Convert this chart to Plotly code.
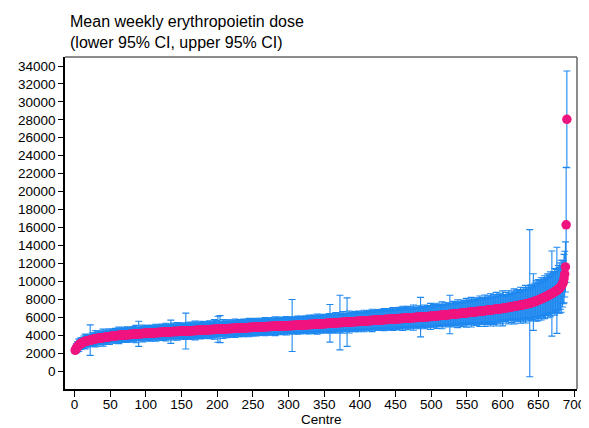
import plotly.graph_objects as go

# Mean weekly erythropoietin dose per centre (sorted)
mean_dose = [
    2300, 2450, 2580, 2700, 2790, 2870, 2940, 3000, 3060, 3110,
    3150, 3190, 3230, 3260, 3290, 3320, 3340, 3360, 3380, 3400,
    3420, 3440, 3460, 3480, 3500, 3520, 3540, 3560, 3580, 3600,
    3610, 3620, 3640, 3650, 3660, 3680, 3690, 3700, 3710, 3720,
    3730, 3740, 3750, 3760, 3770, 3790, 3800, 3810, 3830, 3850,
    3860, 3870, 3880, 3890, 3900, 3910, 3920, 3930, 3940, 3950,
    3960, 3970, 3975, 3980, 3990, 4000, 4005, 4010, 4020, 4030,
    4035, 4040, 4045, 4050, 4055, 4060, 4065, 4070, 4075, 4080,
    4090, 4095, 4100, 4110, 4115, 4120, 4130, 4135, 4140, 4150,
    4155, 4160, 4165, 4170, 4175, 4180, 4185, 4190, 4195, 4200,
    4205, 4210, 4215, 4220, 4225, 4230, 4235, 4240, 4245, 4250,
    4255, 4260, 4265, 4270, 4275, 4280, 4285, 4290, 4295, 4300,
    4305, 4310, 4315, 4320, 4325, 4330, 4335, 4340, 4345, 4350,
    4355, 4360, 4365, 4370, 4375, 4380, 4385, 4390, 4395, 4400,
    4405, 4408, 4411, 4414, 4417, 4420, 4422, 4425, 4428, 4430,
    4435, 4440, 4444, 4448, 4452, 4456, 4460, 4465, 4470, 4475,
    4480, 4484, 4488, 4492, 4496, 4500, 4505, 4510, 4515, 4520,
    4524, 4528, 4532, 4536, 4540, 4545, 4550, 4555, 4560, 4565,
    4570, 4574, 4578, 4582, 4586, 4590, 4595, 4600, 4605, 4610,
    4614, 4618, 4622, 4626, 4630, 4634, 4638, 4642, 4646, 4650,
    4655, 4660, 4664, 4668, 4672, 4676, 4680, 4685, 4690, 4695,
    4700, 4704, 4708, 4712, 4716, 4720, 4725, 4730, 4735, 4740,
    4744, 4748, 4752, 4756, 4760, 4764, 4768, 4772, 4776, 4780,
    4785, 4790, 4794, 4798, 4802, 4806, 4810, 4815, 4820, 4825,
    4830, 4834, 4838, 4842, 4846, 4850, 4855, 4860, 4865, 4870,
    4874, 4878, 4882, 4886, 4890, 4894, 4898, 4902, 4906, 4910,
    4914, 4918, 4922, 4926, 4930, 4934, 4938, 4942, 4946, 4950,
    4954, 4958, 4962, 4966, 4970, 4974, 4978, 4982, 4986, 4990,
    4994, 4998, 5002, 5006, 5010, 5014, 5018, 5022, 5026, 5030,
    5032, 5034, 5036, 5038, 5040, 5042, 5044, 5046, 5048, 5050,
    5055, 5060, 5064, 5068, 5072, 5076, 5080, 5085, 5090, 5095,
    5100, 5104, 5108, 5112, 5116, 5120, 5125, 5130, 5135, 5140,
    5144, 5148, 5152, 5156, 5160, 5164, 5168, 5172, 5176, 5180,
    5185, 5190, 5195, 5200, 5205, 5210, 5215, 5220, 5225, 5230,
    5235, 5240, 5245, 5250, 5255, 5260, 5265, 5270, 5275, 5280,
    5285, 5290, 5295, 5300, 5305, 5310, 5315, 5320, 5325, 5330,
    5336, 5342, 5348, 5354, 5360, 5366, 5372, 5378, 5384, 5390,
    5395, 5400, 5405, 5410, 5415, 5420, 5425, 5430, 5435, 5440,
    5445, 5450, 5455, 5460, 5465, 5470, 5475, 5480, 5485, 5490,
    5495, 5500, 5505, 5510, 5515, 5520, 5525, 5530, 5535, 5540,
    5545, 5550, 5556, 5562, 5568, 5574, 5580, 5585, 5590, 5595,
    5600, 5606, 5612, 5618, 5624, 5630, 5635, 5640, 5645, 5650,
    5656, 5662, 5668, 5674, 5680, 5685, 5690, 5695, 5700, 5705,
    5710, 5716, 5722, 5728, 5734, 5740, 5745, 5750, 5755, 5760,
    5765, 5770, 5775, 5780, 5785, 5790, 5795, 5800, 5805, 5810,
    5816, 5822, 5828, 5834, 5840, 5845, 5850, 5855, 5860, 5865,
    5871, 5877, 5883, 5889, 5895, 5900, 5905, 5910, 5915, 5920,
    5926, 5932, 5938, 5944, 5950, 5955, 5960, 5965, 5970, 5975,
    5981, 5987, 5993, 5999, 6005, 6010, 6015, 6020, 6025, 6030,
    6036, 6042, 6048, 6054, 6060, 6066, 6072, 6078, 6084, 6090,
    6098, 6106, 6114, 6122, 6130, 6138, 6146, 6154, 6162, 6170,
    6178, 6186, 6194, 6202, 6210, 6218, 6226, 6234, 6242, 6250,
    6258, 6266, 6274, 6282, 6290, 6298, 6306, 6314, 6322, 6330,
    6338, 6346, 6354, 6362, 6370, 6378, 6386, 6394, 6402, 6410,
    6419, 6428, 6437, 6446, 6455, 6464, 6473, 6482, 6491, 6500,
    6510, 6520, 6529, 6538, 6547, 6556, 6565, 6574, 6583, 6592,
    6601, 6610, 6619, 6628, 6637, 6646, 6655, 6664, 6673, 6682,
    6691, 6700, 6710, 6720, 6730, 6740, 6750, 6760, 6770, 6780,
    6790, 6800, 6810, 6820, 6830, 6840, 6850, 6860, 6870, 6880,
    6890, 6900, 6910, 6920, 6930, 6940, 6950, 6960, 6970, 6980,
    6994, 7008, 7022, 7036, 7050, 7064, 7078, 7092, 7106, 7120,
    7134, 7148, 7162, 7176, 7190, 7204, 7218, 7232, 7246, 7260,
    7274, 7288, 7302, 7316, 7330, 7346, 7362, 7378, 7394, 7410,
    7428, 7446, 7464, 7482, 7500, 7520, 7540, 7560, 7580, 7600,
    7628, 7656, 7684, 7712, 7740, 7770, 7800, 7830, 7865, 7900,
    7935, 7970, 8005, 8040, 8075, 8110, 8145, 8180, 8220, 8260,
    8300, 8340, 8380, 8420, 8460, 8500, 8545, 8590, 8635, 8680,
    8730, 8780, 8830, 8880, 8930, 8990, 9050, 9110, 9180, 9250,
    9340, 9450, 9580, 9730, 9900, 10300, 10800, 11600, 16300, 28050,
]

# Half-width of the 95% CI per centre (estimated from the error bars)
ci_half = [
    350, 420, 480, 560, 450, 700, 500, 560, 640, 480,
    590, 520, 680, 500, 820, 560, 620, 700, 530, 580,
    650, 1700, 560, 610, 760, 520, 680, 590, 900, 540,
    640, 850, 550, 700, 600, 520, 760, 580, 660, 950,
    560, 720, 610, 540, 800, 640, 580, 690, 870, 600,
    650, 540, 750, 620, 700, 580, 830, 660, 550, 730,
    610, 920, 570, 680, 630, 790, 560, 710, 660, 850,
    600, 760, 650, 880, 570, 700, 610, 810, 650, 580,
    740, 640, 850, 590, 690, 970, 610, 720, 650, 1400,
    680, 590, 820, 630, 720, 930, 620, 770, 670, 590,
    710, 870, 630, 780, 660, 580, 900, 690, 750, 640,
    820, 600, 720, 950, 650, 750, 630, 860, 680, 590,
    780, 670, 910, 620, 730, 820, 650, 980, 700, 610,
    750, 870, 660, 720, 1300, 630, 800, 680, 940, 640,
    740, 830, 660, 990, 700, 610, 790, 710, 880, 660,
    760, 680, 930, 650, 830, 2000, 700, 770, 660, 880,
    720, 970, 640, 800, 690, 860, 740, 650, 1050, 700,
    780, 660, 910, 720, 810, 640, 990, 680, 760, 860,
    670, 950, 710, 790, 650, 890, 750, 690, 1000, 660,
    820, 730, 920, 650, 850, 1100, 700, 760, 970, 680,
    1450, 790, 700, 1500, 740, 860, 660, 1060, 760, 710,
    900, 650, 810, 1000, 720, 780, 680, 950, 740, 830,
    670, 920, 750, 720, 1030, 690, 790, 860, 660, 960,
    730, 820, 700, 910, 770, 650, 980, 720, 810, 890,
    680, 930, 760, 730, 1020, 670, 850, 790, 700, 950,
    750, 880, 690, 820, 990, 720, 780, 900, 670, 840,
    760, 960, 710, 800, 870, 680, 1010, 770, 730, 900,
    810, 700, 970, 760, 860, 720, 930, 790, 680, 890,
    1050, 750, 830, 730, 940, 790, 700, 880, 810, 990,
    720, 850, 770, 930, 740, 820, 1030, 710, 790, 870,
    760, 920, 730, 830, 2900, 790, 960, 730, 850, 810,
    900, 750, 1010, 790, 710, 870, 960, 770, 840, 740,
    930, 810, 760, 990, 850, 730, 910, 820, 1050, 780,
    870, 750, 950, 830, 790, 1020, 730, 890, 840, 1120,
    790, 930, 820, 990, 760, 880, 1060, 800, 940, 860,
    840, 1010, 780, 900, 960, 820, 1090, 2100, 870, 920,
    790, 1040, 880, 820, 970, 1160, 850, 930, 810, 1060,
    890, 3050, 840, 1000, 930, 1200, 860, 960, 800, 1030,
    910, 2700, 850, 980, 1230, 880, 940, 1070, 820, 1000,
    910, 870, 1110, 950, 840, 1020, 900, 1150, 860, 970,
    930, 1060, 880, 990, 850, 1200, 950, 900, 1040, 870,
    980, 920, 1130, 880, 1010, 950, 1250, 910, 1050, 930,
    860, 1090, 970, 910, 1160, 1000, 890, 1060, 940, 1180,
    900, 1030, 980, 1240, 930, 1100, 880, 1000, 1210, 950,
    1040, 910, 1150, 1010, 940, 1280, 970, 1090, 920, 1030,
    1190, 960, 1060, 910, 1250, 990, 1110, 950, 1040, 1350,
    980, 1080, 940, 1190, 1020, 960, 1300, 1060, 1000, 1130,
    950, 1230, 1040, 980, 1400, 1070, 1010, 1160, 970, 1100,
    1050, 1280, 1000, 1090, 2200, 1030, 1200, 980, 1140, 1060,
    1330, 1010, 1110, 1050, 1240, 990, 1170, 1080, 1450, 1030,
    1130, 1060, 1300, 1020, 1190, 1100, 1050, 1400, 1120, 1060,
    1230, 1040, 1160, 1110, 1500, 1070, 1210, 1140, 1050, 1340,
    1110, 1180, 1080, 1290, 1150, 2150, 1100, 1240, 1170, 1120,
    1420, 1160, 1110, 1270, 1200, 1130, 1550, 1220, 1160, 1310,
    1180, 1120, 1480, 1240, 1190, 1370, 1150, 1280, 1600, 1210,
    1260, 1170, 1400, 1230, 1310, 1650, 1190, 1350, 1250, 1470,
    1290, 1220, 1550, 1330, 1270, 1430, 1240, 1700, 1340, 1290,
    1510, 1310, 1390, 1260, 1750, 1360, 1300, 1480, 1330, 1600,
    1380, 1320, 1800, 1400, 1350, 1540, 1340, 1670, 1410, 1370,
    1880, 1430, 1390, 1600, 1450, 1400, 1710, 1460, 1420, 1950,
    1350, 1300, 1500, 1380, 1700, 1320, 1420, 1850, 1400, 1340,
    1550, 1420, 1750, 1400, 1480, 1950, 1440, 1560, 1460, 1700,
    1500, 1800, 1480, 1620, 2000, 1520, 1700, 1510, 1900, 1560,
    1650, 2100, 1580, 1800, 1620, 1950, 1600, 8200, 1700, 2000,
    1660, 1900, 3150, 1700, 2050, 1740, 2250, 1780, 1960, 2300,
    1800, 2100, 1850, 2350, 1880, 2050, 2250, 1900, 2400, 1950,
    2100, 1980, 2450, 2020, 2250, 2050, 2500, 2100, 4750, 2150,
    2300, 2180, 2600, 2220, 2400, 4800, 2280, 2650, 2350, 2800,
    2450, 2900, 2000, 2600, 2400, 2700, 2550, 2800, 6400, 5400,
]

centre = list(range(1, len(mean_dose) + 1))

x_ticks = [0, 50, 100, 150, 200, 250, 300, 350, 400, 450, 500, 550, 600, 650, 700]
y_ticks = [0, 2000, 4000, 6000, 8000, 10000, 12000, 14000, 16000, 18000,
           20000, 22000, 24000, 26000, 28000, 30000, 32000, 34000]

BLUE = "#1E88F0"
PINK = "#F0147F"
FONT = "Liberation Sans, Arial, sans-serif"

fig = go.Figure()
fig.add_trace(go.Scatter(
    x=centre, y=mean_dose, mode="markers",
    marker=dict(size=9, color=BLUE, opacity=0),
    error_y=dict(type="data", array=ci_half, symmetric=True,
                 color=BLUE, thickness=1.1, width=3.5),
    showlegend=False, hoverinfo="skip",
))
fig.add_trace(go.Scatter(
    x=centre, y=mean_dose, mode="markers",
    marker=dict(size=9.5, color=PINK, line=dict(width=0)),
    showlegend=False,
))

# The page body has an 8px default margin, so the figure is sized and
# offset to land on the same pixels as the reference in a 589x428 window.
fig.update_layout(
    width=581, height=420,
    margin=dict(l=56.5, r=12.3, t=48.7, b=39.3),
    paper_bgcolor="white", plot_bgcolor="white",
    font=dict(family=FONT, size=13.5, color="black"),
    xaxis=dict(
        range=[-13.3, 704.2], tickvals=x_ticks, ticktext=[str(v) for v in x_ticks],
        ticks="outside", ticklen=6, ticklabelstandoff=-4, automargin=False,
        tickcolor="black", showline=True, linecolor="black", linewidth=1.5,
        showgrid=False, zeroline=False,
    ),
    yaxis=dict(
        range=[-2006, 35003], tickvals=y_ticks, ticktext=[str(v) for v in y_ticks],
        ticks="outside", ticklen=5, automargin=False,
        tickcolor="black", showline=True, linecolor="black", linewidth=1.5,
        showgrid=False, zeroline=False,
    ),
    shapes=[
        dict(type="line", xref="paper", yref="paper", x0=0, x1=1, y0=1, y1=1,
             line=dict(color="#666666", width=1.5)),
        dict(type="line", xref="paper", yref="paper", x0=1, x1=1, y0=0, y1=1,
             line=dict(color="#666666", width=1.5)),
    ],
    annotations=[
        dict(text="Mean weekly erythropoietin dose<br>(lower 95% CI, upper 95% CI)",
             xref="paper", yref="paper", x=0.005, y=1.0, xanchor="left",
             yanchor="bottom", yshift=4, showarrow=False, align="left",
             font=dict(size=16, family=FONT, color="black")),
        dict(text="Centre", xref="paper", yref="paper", x=0.5, y=0,
             xanchor="center", yanchor="bottom", yshift=-39.3, showarrow=False,
             borderpad=0, font=dict(size=13.5, family=FONT, color="black")),
    ],
)

fig.write_html("out.html")
